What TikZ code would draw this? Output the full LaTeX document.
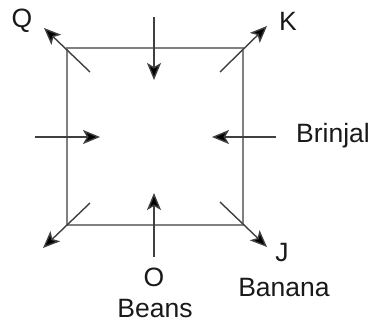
\documentclass[tikz,border=0pt]{standalone}
\usepackage{fontspec}
\setmainfont{Liberation Sans}
\usetikzlibrary{arrows.meta}
\begin{document}
\begin{tikzpicture}[x=1pt,y=-1pt,
  box/.style={draw=black!50,line width=2pt},
  arr/.style={draw=black!75,line width=1.4pt,-{Stealth[length=17pt,width=14pt,inset=4pt,fill=black]}},
  lbl/.style={font=\fontsize{26.5}{30}\selectfont,inner sep=0pt,text=black!90}]
\useasboundingbox (0,0) rectangle (376,324);
\coordinate (tl) at (67,48);
\coordinate (tr) at (243,48);
\coordinate (br) at (243,225);
\coordinate (bl) at (67,225);
\draw[box] (tl) -- (tr) -- (br) -- (bl) -- cycle;
% arrow endpoints
\coordinate (qs) at (90,72);   \coordinate (qe) at (44,28);
\coordinate (ts) at (154,17);  \coordinate (te) at (154,80);
\coordinate (ks) at (220,72);  \coordinate (ke) at (267,26);
\coordinate (ls) at (35,137);  \coordinate (le) at (100,137);
\coordinate (rs) at (276,137); \coordinate (re) at (212,137);
\coordinate (bls) at (90,203); \coordinate (ble) at (43,248);
\coordinate (bs) at (154,257); \coordinate (be) at (154,193);
\coordinate (brs) at (220,202);\coordinate (bre) at (267,247);
\draw[arr] (qs) -- (qe);
\draw[arr] (ts) -- (te);
\draw[arr] (ks) -- (ke);
\draw[arr] (ls) -- (le);
\draw[arr] (rs) -- (re);
\draw[arr] (bls) -- (ble);
\draw[arr] (bs) -- (be);
\draw[arr] (brs) -- (bre);
\node[lbl] (Q) at (22,21) {Q};
\node[lbl] (K) at (288,21) {K};
\node[lbl,anchor=west] (Brinjal) at (296,136) {Brinjal};
\node[lbl] (J) at (282,253) {J};
\node[lbl] (Banana) at (284,288) {Banana};
\node[lbl] (O) at (154,277) {O};
\node[lbl] (Beans) at (155,309) {Beans};
\end{tikzpicture}
\end{document}
